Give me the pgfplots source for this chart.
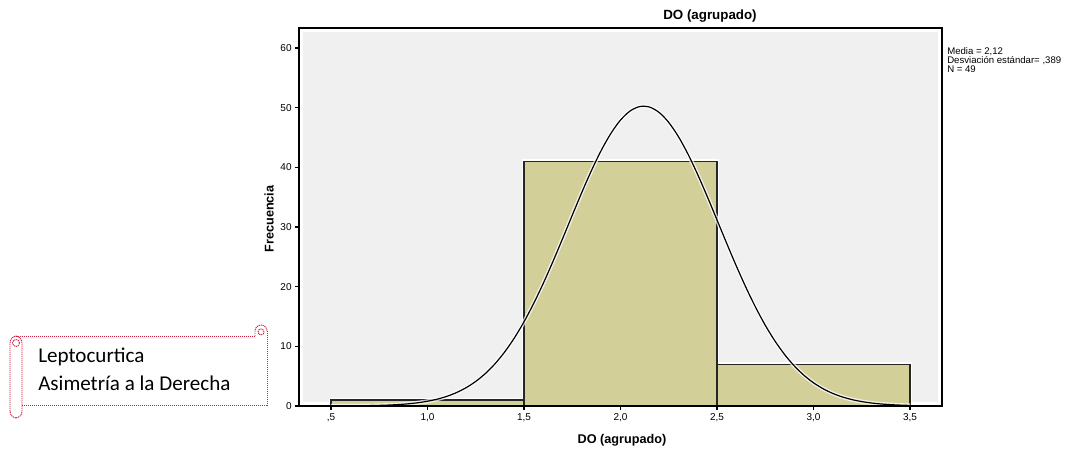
\documentclass[border=0pt]{standalone}
\usepackage{pgfplots}
\pgfplotsset{compat=1.18}
\usepackage{fontspec}
\setmainfont{Liberation Sans}
\newfontfamily\calib{Carlito}
\definecolor{bggray}{HTML}{F0F0F0}
\definecolor{barfill}{HTML}{D3CF99}
\definecolor{scrollred}{HTML}{D0203F}
\pgfplotstableread{
x y
0.5 1
1.5 41
2.5 7
3.5 7
}\bars
\pgfplotstableread{
x y
0.50 0.0086
0.55 0.0146
0.60 0.0243
0.65 0.0398
0.70 0.0642
0.75 0.1018
0.80 0.1588
0.85 0.2437
0.90 0.3675
0.95 0.5453
1.00 0.796
1.05 1.144
1.10 1.615
1.15 2.244
1.20 3.066
1.25 4.120
1.30 5.447
1.35 7.084
1.40 9.062
1.45 11.401
1.50 14.111
1.55 17.176
1.60 20.565
1.65 24.220
1.70 28.055
1.75 31.968
1.80 35.828
1.85 39.496
1.90 42.826
1.95 45.675
2.00 47.917
2.05 49.445
2.10 50.186
2.15 50.103
2.20 49.200
2.25 47.523
2.30 45.150
2.35 42.193
2.40 38.784
2.45 35.066
2.50 31.185
2.55 27.278
2.60 23.471
2.65 19.864
2.70 16.535
2.75 13.539
2.80 10.905
2.85 8.638
2.90 6.731
2.95 5.159
3.00 3.889
3.05 2.884
3.10 2.104
3.15 1.510
3.20 1.065
3.25 0.739
3.30 0.5045
3.35 0.3387
3.40 0.2239
3.45 0.1455
3.50 0.0930
}\curve
\begin{document}
\begin{tikzpicture}[x=0.75pt,y=0.75pt]
\useasboundingbox (0,0) rectangle (1065,452);
\begin{axis}[
  at={(224.25pt,34.5pt)}, anchor=south west,
  scale only axis, width=482.25pt, height=283.5pt,
  xmin=0.3342, xmax=3.6658, ymin=0, ymax=63.35,
  axis on top,
  axis line style={black, line width=0.9pt},
  xtick={0.5,1,1.5,2,2.5,3,3.5},
  xticklabels={{,5},{1,0},{1,5},{2,0},{2,5},{3,0},{3,5}},
  ytick={0,10,20,30,40,50,60},
  /pgf/number format/assume math mode=true,
  tick align=outside, tick pos=left, major tick length=3pt,
  every tick/.style={black, line width=0.8pt},
  tick label style={font=\fontsize{7.5}{8}\selectfont},
  xticklabel style={yshift=1pt},
  yticklabel style={xshift=1pt},
]
\fill[bggray] ([xshift=3.3pt,yshift=3.3pt]rel axis cs:0,0) rectangle ([xshift=-3.3pt,yshift=-3.3pt]rel axis cs:1,1);
\addplot[ybar interval, draw=white, line width=3.5pt, fill=white] table {\bars};
\addplot[ybar interval, draw=black!85, line width=0.9pt, fill=barfill] table {\bars};
\addplot[draw=white, opacity=0.75, line width=3pt, smooth] table {\curve};
\addplot[draw=black, line width=0.9pt, smooth] table {\curve};
\end{axis}
\node[font=\bfseries\fontsize{10}{11}\selectfont] at (710,436) {DO (agrupado)};
\node[font=\bfseries\fontsize{9.5}{10}\selectfont] at (622,12) {DO (agrupado)};
\node[font=\bfseries\fontsize{9.5}{10}\selectfont, rotate=90] at (269,233) {Frecuencia};
\node[anchor=north west, align=left, inner sep=0pt, font=\fontsize{7.2}{6.8}\selectfont] at (947,405) {Media = 2,12\\Desviación estándar= ,389\\N = 49};
% scroll shape
\begin{scope}[draw=scrollred, line width=0.7pt, dash pattern=on 0.9pt off 0.6pt]
\draw[rounded corners=5] (10,34) rectangle (22,116);
\draw (16,116) -- (255,116);
\draw (22,47) -- (267,47) -- (267,121);
\draw (255,116) -- (255,121) arc (180:0:6);
\draw (16,109) circle (3.5);
\draw (261,120) circle (3);
\end{scope}
\node[anchor=base west, inner sep=0pt, font=\calib\fontsize{15.8}{18}\selectfont] at (38,89) {Leptocurtica};
\node[anchor=base west, inner sep=0pt, font=\calib\fontsize{15.8}{18}\selectfont] at (38,61) {Asimetría a la Derecha};
\end{tikzpicture}
\end{document}
